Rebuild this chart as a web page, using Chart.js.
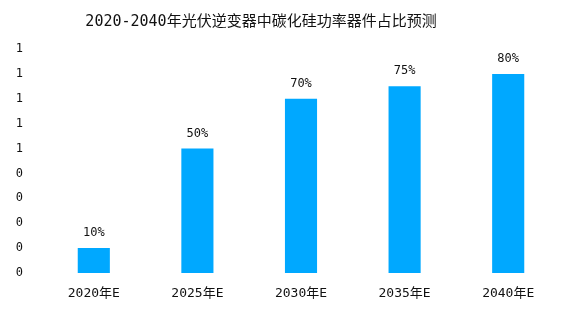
<!DOCTYPE html>
<html>
<head>
<meta charset="utf-8">
<script src="https://cdn.jsdelivr.net/npm/chart.js@4/dist/chart.umd.min.js"></script>
<style>
  html, body { margin: 0; padding: 0; background: #fff; }
  #wrap { width: 575px; height: 326px; position: relative; }
</style>
</head>
<body>
<div id="wrap"><canvas id="sicChart"></canvas></div>
<script>
// ===== DATA =====
const chartTitle = '2020-2040年光伏逆变器中碳化硅功率器件占比预测';
const years = ['2020年E', '2025年E', '2030年E', '2035年E', '2040年E'];
const sicShare = [0.10, 0.50, 0.70, 0.75, 0.80];
// axis labels are shown rounded to whole numbers
const yTickLabels = ['0', '0', '0', '0', '0', '1', '1', '1', '1', '1'];

const FONT = '"DejaVu Sans Mono", "Noto Sans CJK SC", monospace';
const BAR_COLOR = '#00a8ff';
const TEXT_COLOR = '#111';

// title sits a little left of the plot centre
const titleText = {
  id: 'titleText',
  afterDraw(chart) {
    const ctx = chart.ctx;
    ctx.save();
    ctx.font = '15px ' + FONT;
    ctx.fillStyle = TEXT_COLOR;
    ctx.textAlign = 'center';
    ctx.textBaseline = 'middle';
    ctx.fillText(chartTitle, 261, 22);
    ctx.restore();
  }
};

// percentage above each bar
const valueLabels = {
  id: 'valueLabels',
  afterDatasetsDraw(chart) {
    const ctx = chart.ctx;
    const meta = chart.getDatasetMeta(0);
    ctx.save();
    ctx.font = '12px ' + FONT;
    ctx.fillStyle = TEXT_COLOR;
    ctx.textAlign = 'center';
    ctx.textBaseline = 'middle';
    meta.data.forEach((bar, i) => {
      ctx.fillText(Math.round(sicShare[i] * 100) + '%', bar.x, bar.y - 15);
    });
    ctx.restore();
  }
};

new Chart(document.getElementById('sicChart'), {
  type: 'bar',
  data: {
    labels: years,
    datasets: [{
      data: sicShare,
      backgroundColor: BAR_COLOR,
      barPercentage: 0.62,
      categoryPercentage: 0.5
    }]
  },
  options: {
    responsive: true,
    maintainAspectRatio: false,
    animation: false,
    layout: { padding: { left: 0, right: 15, top: 49, bottom: 8 } },
    plugins: {
      legend: { display: false },
      tooltip: { enabled: false },
      title: { display: false }
    },
    scales: {
      x: {
        grid: { display: false, drawTicks: false },
        border: { display: false },
        ticks: { color: TEXT_COLOR, font: { family: FONT, size: 13 }, padding: 13, maxRotation: 0 },
        afterFit: s => { s.height = 45; }
      },
      y: {
        min: 0,
        max: 0.9,
        grid: { display: false, drawTicks: false },
        border: { display: false },
        ticks: {
          stepSize: 0.1,
          color: TEXT_COLOR,
          font: { family: FONT, size: 12 },
          padding: 19,
          callback: (v, i) => yTickLabels[i]
        },
        afterFit: s => { s.width = 42; }
      }
    }
  },
  plugins: [valueLabels, titleText]
});
</script>
</body>
</html>
